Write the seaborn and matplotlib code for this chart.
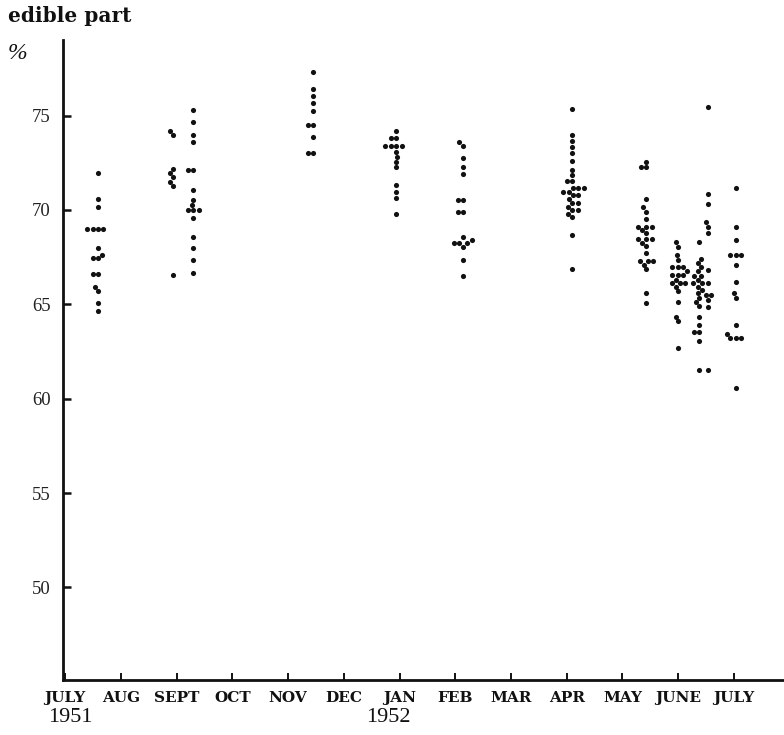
import numpy as np
import pandas as pd
import matplotlib
matplotlib.use("Agg")
import matplotlib.pyplot as plt
import matplotlib.transforms as mtransforms
import seaborn as sns

# ---- data ----
month_labels = ["JULY", "AUG", "SEPT", "OCT", "NOV", "DEC", "JAN", "FEB",
                "MAR", "APR", "MAY", "JUNE", "JULY"]
year_labels = [("1951", 0.1), ("1952", 5.8)]
y_ticks = [50, 55, 60, 65, 70, 75]

# sampling date as months after 1 July 1951
sample_pos = [0.59, 1.94, 2.30, 4.45, 5.94, 7.14, 9.10, 10.43, 10.99, 11.38, 11.53, 12.03]

jul51 = [71.94, 70.57, 70.18, 69.0, 69.0, 69.0, 69.0, 68.0, 67.6, 67.44, 67.44,
         66.63, 66.63, 65.94, 65.73, 65.06, 64.64]
sep_a = [74.19, 73.97, 72.17, 71.94, 71.73, 71.5, 71.27, 66.56]
sep_b = [75.29, 74.64, 73.97, 73.62, 72.12, 72.12, 71.06, 70.53, 70.26, 70.0, 70.0,
         70.0, 69.56, 68.59, 67.97, 67.35, 66.65]
nov = [77.32, 76.43, 76.03, 75.64, 75.25, 74.5, 74.5, 73.85, 73.0, 73.0]
jan = [74.2, 73.79, 73.79, 73.39, 73.39, 73.39, 73.39, 73.09, 72.82, 72.56, 72.29,
       71.32, 70.97, 70.62, 69.79]
feb = [73.58, 73.39, 72.73, 72.26, 71.9, 70.53, 70.53, 69.91, 69.91, 68.59, 68.38,
       68.24, 68.24, 68.24, 68.06, 67.35, 66.52]
apr = [75.33, 73.97, 73.67, 73.32, 73.03, 72.61, 72.12, 71.85, 71.55, 71.55, 71.15,
       71.15, 71.15, 70.97, 70.97, 70.79, 70.79, 70.58, 70.35, 70.35, 70.18, 70.0,
       70.0, 69.79, 69.65, 68.65, 66.86]
may = [72.56, 72.29, 72.29, 70.58, 70.14, 69.91, 69.51, 69.12, 69.12, 69.12, 68.94,
       68.77, 68.45, 68.45, 68.45, 68.27, 68.1, 67.71, 67.27, 67.27, 67.27, 67.1,
       66.86, 65.62, 65.06]
jun_a = [68.32, 68.06, 67.62, 67.35, 67.0, 67.0, 67.0, 66.74, 66.56, 66.56, 66.56,
         66.3, 66.12, 66.12, 66.12, 65.94, 65.68, 65.1, 64.35, 64.09, 62.68]
jun_b = [68.28, 67.39, 67.18, 66.97, 66.74, 66.51, 66.51, 66.3, 66.12, 66.12, 65.94,
         65.77, 65.59, 65.33, 65.1, 64.89, 64.35, 63.92, 63.51, 63.51, 63.08, 61.53]
jun_c = [75.45, 70.85, 70.32, 69.38, 69.12, 68.8, 66.83, 66.12, 65.5, 65.5, 65.24,
         64.85, 61.53]
jul52 = [71.15, 69.08, 68.38, 67.62, 67.62, 67.62, 67.1, 66.16, 65.59, 65.33, 63.92,
         63.44, 63.21, 63.21, 63.21, 60.56]

samples = [jul51, sep_a, sep_b, nov, jan, feb, apr, may, jun_a, jun_b, jun_c, jul52]

rows = []
for gi, (pos, vals) in enumerate(zip(sample_pos, samples)):
    for v in vals:
        rows.append({"group": gi, "month": pos, "value": v})
df = pd.DataFrame(rows)

# ---- figure ----
sns.set_style("ticks")
plt.rcParams["font.family"] = ["Liberation Serif", "DejaVu Serif"]

fig = plt.figure(figsize=(7.84, 7.35), dpi=100)
ax = fig.add_axes([63 / 784, (735 - 680) / 735, 1 - 63 / 784, (680 - 40) / 735])

for gi, sub in df.groupby("group", sort=False):
    sns.swarmplot(data=sub, x="month", y="value", native_scale=True,
                  color="#111111", size=3.7, linewidth=0, ax=ax)

ax.set_xlim(-0.04, 12.9)
ax.set_ylim(45.1, 79.0)
ax.set_xlabel("")
ax.set_ylabel("")

for s in ["top", "right"]:
    ax.spines[s].set_visible(False)
for s in ["left", "bottom"]:
    ax.spines[s].set_linewidth(2.0)
    ax.spines[s].set_color("#111111")

ax.set_yticks(y_ticks)
ax.set_yticklabels([str(t) for t in y_ticks], fontsize=13.5, color="#222222")
ax.tick_params(axis="y", direction="in", length=6, width=1.8, pad=9, color="#111111")

ax.set_xticks(range(len(month_labels)))
ax.set_xticklabels(month_labels, fontsize=11, fontweight="bold",
                   family="DejaVu Serif", color="#111111")
ax.tick_params(axis="x", direction="in", length=5, width=1.4, pad=8, color="#111111")

trans = mtransforms.blended_transform_factory(ax.transData, ax.transAxes)
for txt, xpos in year_labels:
    ax.text(xpos, -28 / 640, txt, transform=trans, ha="center", va="top",
            fontsize=16, color="#111111")

fig.text(8 / 784, 1 - 6 / 735, "edible part", ha="left", va="top",
         fontsize=14.5, fontweight="bold", family="DejaVu Serif", color="#111111")
fig.text(8 / 784, 1 - 43 / 735, "%", ha="left", va="top",
         fontsize=17, style="italic", color="#111111")

fig.savefig("out.png", dpi=100)
